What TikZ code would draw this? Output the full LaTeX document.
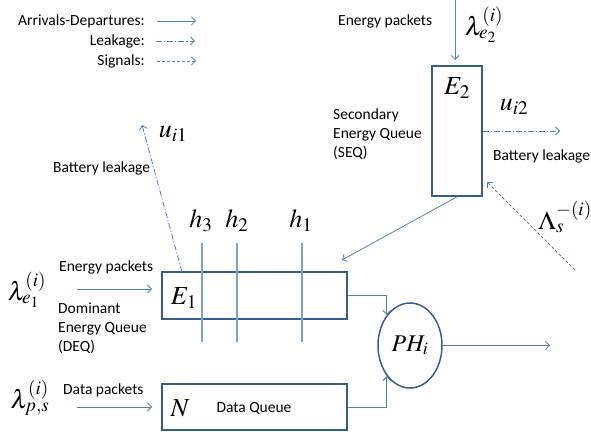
\documentclass[tikz,border=0pt]{standalone}
\usepackage{mathptmx}
\usepackage[no-math]{fontspec}
\setmainfont{Carlito}
\usetikzlibrary{arrows.meta,calc,shapes.geometric}
\definecolor{arrowblue}{RGB}{79,129,189}
\definecolor{boxblue}{RGB}{56,93,138}
\definecolor{lineblue}{RGB}{125,160,205}
\tikzset{
  txt/.style={font=\fontsize{15.5}{19}\selectfont, inner sep=0pt},
  mth/.style={font=\fontsize{26}{30}\selectfont, inner sep=0pt},
  qbox/.style={draw=boxblue, line width=1.5pt, rectangle, inner sep=0pt},
  flow/.style={draw=arrowblue, line width=0.8pt, -{Straight Barb[length=4pt,width=8pt]}},
  leak/.style={flow, dash pattern=on 6pt off 2pt on 1.2pt off 2pt},
  signal/.style={flow, dash pattern=on 3pt off 2pt},
  hline/.style={draw=lineblue, line width=1.1pt},
}
\begin{document}
\begin{tikzpicture}[x=1pt,y=-1pt]
\useasboundingbox (0,0) rectangle (591,435);
% legend
\node[txt, anchor=east] (la) at (145,21) {Arrivals-Departures:};
\node[txt, anchor=east] (ll) at (145,41) {Leakage:};
\node[txt, anchor=east] (ls) at (145,61) {Signals:};
\coordinate (la1) at (157,21); \coordinate (la2) at (196,21);
\coordinate (ll1) at (156,41); \coordinate (ll2) at (195,41);
\coordinate (ls1) at (157,61); \coordinate (ls2) at (196,61);
\draw[flow] (la1) -- (la2);
\draw[leak] (ll1) -- (ll2);
\draw[signal] (ls1) -- (ls2);
% queue boxes
\node[qbox, minimum width=50pt, minimum height=130pt] (E2) at (457,131) {};
\node[qbox, minimum width=185pt, minimum height=47pt] (E1) at (254.5,295.5) {};
\node[qbox, minimum width=185pt, minimum height=46pt] (N) at (254.5,407) {};
\node[draw=boxblue, line width=1.5pt, ellipse, minimum width=64pt, minimum height=85pt, inner sep=0pt] (ph) at (410,345.5) {};
% labels in boxes
\node[mth] (e2lab) at (457,88) {$E_2$};
\node[mth] (e1lab) at (184,298) {$E_1$};
\node[mth] (nlab) at (180,408) {$N$};
\node[txt] (dq) at (254,408) {Data Queue};
\node[mth, font=\fontsize{24}{28}\selectfont] at (ph.center) (phlab) {$PH_i$};
% SEQ area
\node[txt, anchor=west] (ep2) at (338,21) {Energy packets};
\node[mth] (lam2) at (484,25) {$\lambda_{e_2}^{(i)}$};
\node[txt, anchor=west, align=left] (seq) at (333,134) {Secondary\\Energy Queue\\(SEQ)};
\node[mth] (ui2) at (514,107) {$u_{i2}$};
\node[txt, anchor=west] (bl2) at (493,156) {Battery leakage};
\node[mth] (Lam) at (565,217) {$\Lambda_s^{-(i)}$};
\coordinate (top2) at (455,0);
\coordinate (leak2) at (560,131);
\coordinate (e1in) at (342,260);
\coordinate (sig1) at (575,270);
\coordinate (sig2) at (487,182);
\draw[flow] (top2) -- (455,60);
\draw[leak] (E2.east) -- (leak2);
\draw[flow] (E2.south) -- (e1in);
\draw[signal] (sig1) -- (sig2);
% DEQ area
\node[mth] (ui1) at (173,134) {$u_{i1}$};
\node[txt, anchor=west] (bl1) at (53,168) {Battery leakage};
\coordinate (leak1s) at (182,272);
\coordinate (leak1e) at (142,125);
\draw[leak] (leak1s) -- (leak1e);
\node[mth] (h3) at (201,221) {$h_3$};
\node[mth] (h2) at (237,221) {$h_2$};
\node[mth] (h1) at (301,221) {$h_1$};
\draw[hline] (202,243) coordinate (v3a) -- (202,342) coordinate (v3b);
\draw[hline] (237,243) coordinate (v2a) -- (237,342) coordinate (v2b);
\draw[hline] (302,243) coordinate (v1a) -- (302,342) coordinate (v1b);
\node[txt, anchor=west] (ep1) at (59,267) {Energy packets};
\node[mth] (lam1) at (27,290) {$\lambda_{e_1}^{(i)}$};
\coordinate (ep1a) at (77,289); \coordinate (ep1b) at (152,289);
\draw[flow] (ep1a) -- (ep1b);
\node[txt, anchor=west, align=left] (deq) at (58,328) {Dominant\\Energy Queue\\(DEQ)};
% data
\node[mth] (lamp) at (30,398) {$\lambda_{p,s}^{(i)}$};
\node[txt, anchor=west] (dp) at (63,390) {Data packets};
\coordinate (dpa) at (77,407); \coordinate (dpb) at (152,407);
\draw[flow] (dpa) -- (dpb);
% to PH
\draw[flow] (E1.east) -| (ph.north west);
\draw[flow] (N.east) -| (ph.south west);
\coordinate (out) at (550,345.5);
\draw[flow] (ph.east) -- (out);
\end{tikzpicture}
\end{document}
